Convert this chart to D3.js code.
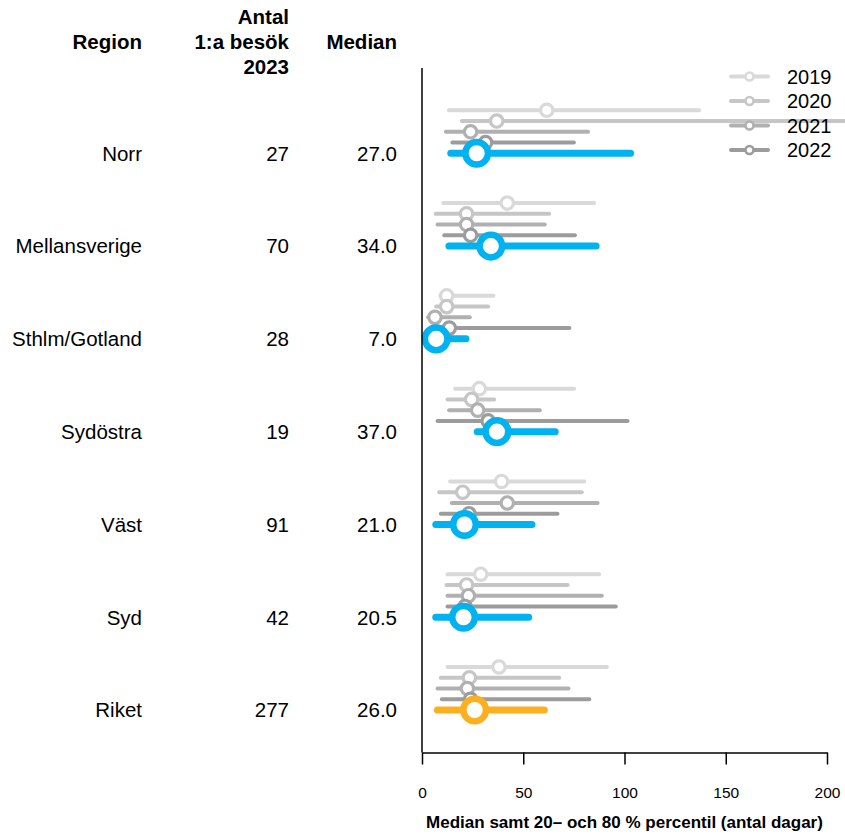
<!DOCTYPE html>
<html>
<head>
<meta charset="utf-8">
<script src="https://cdn.jsdelivr.net/npm/d3@7"></script>
<style>
  html, body { margin: 0; padding: 0; background: #fff; }
  svg { display: block; font-family: "Liberation Sans", Arial, sans-serif; }
</style>
</head>
<body>
<svg id="chart" width="845" height="837"></svg>
<script>
// Regions and 2023 figures
const regions = ["Norr", "Mellansverige", "Sthlm/Gotland", "Sydöstra", "Väst", "Syd", "Riket"];
const antal2023 = [27, 70, 28, 19, 91, 42, 277];
const median2023 = [27.0, 34.0, 7.0, 37.0, 21.0, 20.5, 26.0];
const p20_2023 = [14.2, 13.3, 2.5, 27.3, 6.8, 6.8, 7.6];
const p80_2023 = [103, 86, 21.7, 65.8, 54.3, 52.7, 60.4];

// Earlier years (median, 20th and 80th percentile, days)
const median2019 = [61.6, 42.1, 12.2, 28.3, 39.3, 29.0, 38.0];
const p20_2019 = [13.3, 10.5, 9.0, 16.4, 13.9, 12.6, 12.6];
const p80_2019 = [136.8, 85.0, 35.3, 75.1, 80.1, 87.5, 91.3];

const median2020 = [36.9, 22.0, 12.2, 24.5, 20.1, 22.0, 23.4];
const p20_2020 = [19.7, 6.8, 7.0, 12.6, 8.5, 12.1, 9.3];
const p80_2020 = [215, 62.8, 32.7, 35.6, 78.9, 71.9, 67.8];

const median2021 = [24.0, 22.0, 6.4, 27.5, 42.1, 22.9, 22.4];
const p20_2021 = [11.8, 7.7, 3.0, 13.4, 14.7, 12.6, 7.7];
const p80_2021 = [82.0, 60.6, 23.6, 58.2, 86.7, 88.8, 72.3];

const median2022 = [31.4, 24.0, 13.5, 32.7, 23.2, 21.2, 24.0];
const p20_2022 = [15.0, 11.0, 6.0, 7.7, 9.3, 12.6, 9.8];
const p80_2022 = [75.0, 75.5, 72.8, 101.5, 66.9, 95.7, 82.6];

const years = [2019, 2020, 2021, 2022, 2023];
const xTicks = [0, 50, 100, 150, 200];

const headerRegion = "Region";
const headerAntal = ["Antal", "1:a besök", "2023"];
const headerMedian = "Median";
const axisTitle = "Median samt 20– och 80 % percentil (antal dagar)";

const series = [
  { year: 2019, med: median2019, lo: p20_2019, hi: p80_2019 },
  { year: 2020, med: median2020, lo: p20_2020, hi: p80_2020 },
  { year: 2021, med: median2021, lo: p20_2021, hi: p80_2021 },
  { year: 2022, med: median2022, lo: p20_2022, hi: p80_2022 },
  { year: 2023, med: median2023, lo: p20_2023, hi: p80_2023 }
];

const greyColor = { 2019: "#d9d9d9", 2020: "#c6c6c6", 2021: "#b0b0b0", 2022: "#9c9c9c" };
const currentColor = r => r === "Riket" ? "#fcaf1f" : "#00b2f0";

const svg = d3.select("#chart");

const x = d3.scaleLinear().domain([0, 200]).range([422, 827]);
const yRegion = d3.scalePoint().domain(regions).range([153.3, 710]);
const yYear = d3.scaleLinear().domain([2019, 2023]).range([-43, 0]);

// Data marks: per region, each year's percentile bar then its median ring
const plot = svg.append("g");
regions.forEach((r, i) => {
  const g = plot.append("g");
  series.forEach(s => {
    const cy = yRegion(r) + yYear(s.year);
    const isNow = s.year === 2023;
    const col = isNow ? currentColor(r) : greyColor[s.year];
    g.append("line")
      .attr("x1", x(s.lo[i])).attr("x2", x(s.hi[i]))
      .attr("y1", cy).attr("y2", cy)
      .attr("stroke", col)
      .attr("stroke-width", isNow ? 7 : 4)
      .attr("stroke-linecap", "round");
    g.append("circle")
      .attr("cx", x(s.med[i])).attr("cy", cy)
      .attr("r", isNow ? 11.3 : 6.2)
      .attr("fill", "#fff")
      .attr("stroke", col)
      .attr("stroke-width", isNow ? 6.5 : 3.2);
  });
});

// Legend (earlier years)
const legend = svg.append("g");
years.slice(0, 4).forEach((yr, k) => {
  const ly = 76.5 + k * 24.5;
  legend.append("line")
    .attr("x1", 731).attr("x2", 768).attr("y1", ly).attr("y2", ly)
    .attr("stroke", greyColor[yr]).attr("stroke-width", 4).attr("stroke-linecap", "round");
  legend.append("circle")
    .attr("cx", 749.5).attr("cy", ly).attr("r", 4)
    .attr("fill", "#fff").attr("stroke", greyColor[yr]).attr("stroke-width", 2.6);
  legend.append("text")
    .attr("x", 787).attr("y", ly).attr("dy", "0.36em")
    .attr("font-size", 20).attr("fill", "#000")
    .text(yr);
});

// Axes
svg.append("line")
  .attr("x1", x(0)).attr("x2", x(0)).attr("y1", 68).attr("y2", 752.5)
  .attr("stroke", "#000").attr("stroke-width", 1.5);

const xAxis = svg.append("g")
  .attr("transform", "translate(0,752.5)")
  .call(d3.axisBottom(x).tickValues(xTicks).tickSize(12).tickPadding(22).tickSizeOuter(0));
xAxis.select(".domain").attr("stroke-width", 1.5);
xAxis.selectAll(".tick line").attr("stroke-width", 1.5);
xAxis.selectAll(".tick text")
  .attr("font-size", 15.5).attr("font-family", "Liberation Sans, Arial, sans-serif").attr("fill", "#000");

svg.append("text")
  .attr("x", (x(0) + x(200)) / 2).attr("y", 827.5)
  .attr("text-anchor", "middle").attr("font-size", 17).attr("font-weight", "bold")
  .text(axisTitle);

// Table columns
const colRegion = 142, colAntal = 289, colMedian = 397;
const header = svg.append("g").attr("font-weight", "bold").attr("font-size", 20.5).attr("text-anchor", "end");
header.append("text").attr("x", colRegion).attr("y", 42).attr("dy", "0.36em").text(headerRegion);
headerAntal.forEach((t, k) => {
  header.append("text").attr("x", colAntal).attr("y", 17 + k * 25).attr("dy", "0.36em").text(t);
});
header.append("text").attr("x", colMedian).attr("y", 42).attr("dy", "0.36em").text(headerMedian);

const rows = svg.append("g").attr("font-size", 20.5).attr("text-anchor", "end");
regions.forEach((r, i) => {
  const yy = yRegion(r);
  rows.append("text").attr("x", colRegion).attr("y", yy).attr("dy", "0.36em").text(r);
  rows.append("text").attr("x", colAntal).attr("y", yy).attr("dy", "0.36em").text(antal2023[i]);
  rows.append("text").attr("x", colMedian).attr("y", yy).attr("dy", "0.36em").text(median2023[i].toFixed(1));
});
</script>
</body>
</html>
